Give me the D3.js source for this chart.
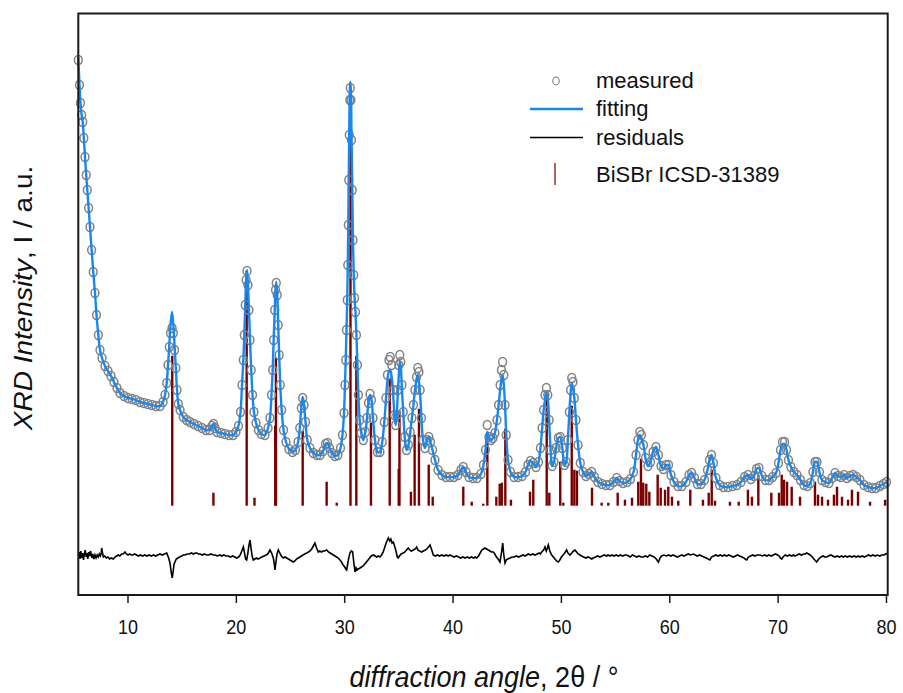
<!DOCTYPE html>
<html>
<head>
<meta charset="utf-8">
<script src="https://cdn.jsdelivr.net/npm/d3@7"></script>
<style>
  html, body { margin: 0; padding: 0; background: #fff; }
  #chart { width: 903px; height: 693px; }
  text { font-family: Arial, "Liberation Sans", sans-serif; fill: #111; }
</style>
</head>
<body>
<div id="chart"></div>
<script>
// 2-theta grid of the measured pattern (deg)
const angle = [
  5.46,5.57,5.66,5.77,5.87,5.97,6.08,6.19,6.29,6.41,
  6.54,6.69,6.84,7.0,7.14,7.31,7.46,7.65,7.92,8.2,
  8.48,8.75,9.03,9.31,9.68,10.05,10.42,10.78,11.15,11.52,
  11.89,12.26,12.63,13.0,13.28,13.46,13.62,13.74,13.86,13.97,
  14.11,14.23,14.34,14.46,14.57,14.69,14.85,15.15,15.46,15.77,
  16.14,16.51,16.88,17.24,17.57,17.8,17.94,18.08,18.26,18.63,
  19.0,19.37,19.74,20.01,20.24,20.43,20.57,20.69,20.78,20.87,
  20.95,21.03,21.12,21.21,21.31,21.42,21.54,21.67,21.86,22.09,
  22.37,22.69,22.97,23.15,23.29,23.4,23.49,23.59,23.66,23.73,
  23.82,23.91,24.0,24.1,24.23,24.4,24.63,24.9,25.23,25.5,
  25.74,25.9,26.04,26.17,26.29,26.43,26.59,26.84,27.15,27.49,
  27.77,28.05,28.28,28.46,28.64,28.87,29.15,29.42,29.66,29.84,
  29.98,30.07,30.14,30.21,30.28,30.33,30.38,30.42,30.47,30.52,
  30.56,30.62,30.67,30.74,30.81,30.88,30.96,31.04,31.13,31.22,
  31.31,31.43,31.57,31.76,31.96,32.1,32.24,32.38,32.52,32.66,
  32.84,33.07,33.3,33.51,33.7,33.85,33.99,34.13,34.25,34.38,
  34.52,34.64,34.75,34.85,34.94,35.04,35.13,35.22,35.33,35.45,
  35.59,35.76,35.93,36.1,36.25,36.39,36.53,36.67,36.79,36.9,
  37.01,37.13,37.27,37.45,37.64,37.81,37.96,38.15,38.38,38.66,
  39.02,39.39,39.76,40.13,40.5,40.78,40.99,41.24,41.52,41.89,
  42.26,42.62,42.85,43.04,43.2,43.36,43.55,43.73,43.91,44.1,
  44.25,44.39,44.51,44.62,44.73,44.84,44.96,45.12,45.35,45.67,
  46.04,46.41,46.73,46.96,47.19,47.42,47.7,47.93,48.11,48.27,
  48.41,48.53,48.66,48.79,48.91,49.05,49.19,49.36,49.56,49.76,
  49.94,50.13,50.33,50.49,50.64,50.78,50.9,51.0,51.11,51.24,
  51.39,51.58,51.79,52.04,52.31,52.59,52.84,53.1,53.42,53.79,
  54.16,54.53,54.85,55.15,55.41,55.73,56.1,56.42,56.7,56.93,
  57.11,57.28,57.43,57.62,57.8,58.04,58.27,58.5,58.77,59.0,
  59.24,59.47,59.7,59.93,60.16,60.44,60.8,61.17,61.54,61.82,
  62.07,62.33,62.6,62.93,63.25,63.53,63.71,63.9,64.08,64.31,
  64.64,65.0,65.42,65.84,66.25,66.62,66.94,67.27,67.54,67.82,
  68.05,68.28,68.56,68.88,69.2,69.53,69.85,70.08,70.27,70.45,
  70.64,70.82,71.0,71.23,71.51,71.79,72.11,72.43,72.76,73.03,
  73.26,73.45,73.63,73.86,74.09,74.42,74.74,75.02,75.3,75.57,
  75.85,76.13,76.4,76.68,76.98,77.28,77.6,77.97,78.34,78.71,
  79.08,79.44,79.77,80.05
];

// measured intensity (a.u.)
const measured = [
  535,510,492,480,473,457,438,420,405,387,
  368,345,323,302,280,260,245,237,229,224,
  219,213,207,202,199,197,196,195,193,192,
  191,190,189,189,193,200,212,230,248,262,
  267,262,245,227,205,191,185,178,175,173,
  171,169,167,165,165,169,171,167,163,162,
  161,160,160,163,169,183,210,235,260,290,
  315,324,310,285,255,225,200,183,172,165,
  161,160,167,177,200,225,255,285,305,312,
  300,270,240,210,185,165,153,146,143,145,
  153,167,187,197,190,173,155,147,142,140,
  140,144,151,152,147,142,139,140,147,160,
  182,210,235,265,295,330,370,415,460,495,
  507,495,455,405,355,320,297,283,260,230,
  200,175,162,155,163,177,192,201,195,177,
  155,143,143,153,173,197,220,235,238,230,
  205,180,170,180,205,230,240,233,210,183,
  158,145,150,163,177,190,205,218,227,223,
  205,177,155,147,155,158,153,145,135,125,
  120,118,118,118,120,125,128,123,118,117,
  117,121,130,145,170,158,155,157,162,175,
  190,210,225,233,220,190,160,135,123,118,
  118,119,123,130,134,132,128,133,147,167,
  185,200,207,200,175,145,129,133,147,157,
  158,147,130,133,155,183,205,217,213,197,
  175,150,132,123,119,121,123,118,113,111,
  110,110,113,117,114,112,113,116,123,140,
  155,163,160,150,137,129,133,143,148,140,
  129,126,130,130,120,113,109,109,113,120,
  122,117,111,111,115,125,135,140,132,117,
  110,108,108,109,110,113,118,120,116,119,
  126,127,119,115,115,118,122,132,145,153,
  153,145,135,128,123,120,115,110,109,112,
  123,133,133,123,115,113,112,117,122,119,
  118,120,117,119,120,118,115,110,108,107,
  107,109,111,113
];

// Rietveld fit (a.u.)
const fitted = [
  538,510,492,480,473,457,438,420,405,387,
  368,345,323,302,280,260,245,237,229,224,
  219,213,207,202,199,197,196,195,193,192,
  191,190,189,189,193,200,212,230,250,270,
  283,270,250,227,205,191,185,178,175,173,
  171,169,167,165,165,169,171,167,163,162,
  161,160,160,163,169,183,210,235,260,290,
  315,325,310,285,255,225,200,183,172,165,
  161,160,167,177,200,225,255,285,305,313,
  300,270,240,210,185,165,153,146,143,145,
  153,167,187,198,190,173,155,147,142,140,
  140,144,151,152,147,142,139,140,147,160,
  182,210,235,265,295,330,372,418,470,505,
  513,505,465,410,355,320,297,283,260,230,
  200,175,162,155,163,177,192,200,195,177,
  155,143,143,153,173,195,215,224,225,218,
  200,180,170,180,200,220,233,228,205,183,
  158,145,150,163,177,190,205,215,220,213,
  200,177,155,147,155,158,153,145,135,125,
  120,118,118,118,120,125,128,123,118,117,
  117,121,130,145,163,158,155,157,162,175,
  190,205,215,220,210,190,160,135,123,118,
  118,119,123,130,134,132,128,133,147,167,
  185,195,202,196,175,145,129,133,147,157,
  158,147,130,133,155,183,203,212,207,197,
  175,150,132,123,119,121,123,118,113,111,
  110,110,113,117,114,112,113,116,123,140,
  155,160,157,150,137,129,133,143,148,140,
  129,126,130,130,120,113,109,109,113,120,
  122,117,111,111,115,125,135,140,132,117,
  110,108,108,109,110,113,118,120,116,119,
  126,127,119,115,115,118,122,132,145,151,
  151,145,135,128,123,120,115,110,109,112,
  123,133,133,123,115,113,112,117,122,119,
  118,120,117,119,120,118,115,110,108,107,
  107,109,111,113
];

// difference curve, drawn around residualOffset
const residualOffset = 39;
const residAngle = [
  5.46,5.55,5.62,5.7,5.78,5.86,5.94,6.02,6.1,6.18,6.26,6.34,6.42,6.5,6.6,6.7,6.8,6.9,7.0,7.1,
  7.2,7.3,7.4,7.5,7.58,7.62,7.68,7.77,7.9,8.05,8.2,8.35,8.5,8.69,8.85,9.0,9.15,9.3,9.45,9.6,
  9.77,9.9,10.05,10.2,10.35,10.5,10.65,10.85,11.0,11.2,11.4,11.6,11.8,12.0,12.2,12.4,12.6,12.8,13.0,13.2,
  13.4,13.62,13.8,13.92,14.02,14.13,14.22,14.3,14.38,14.5,14.65,14.8,15.0,15.15,15.3,15.5,15.7,15.9,16.1,16.25,
  16.39,16.55,16.7,16.9,17.1,17.3,17.5,17.7,17.9,18.1,18.3,18.54,18.7,18.9,19.1,19.3,19.5,19.7,19.9,20.08,
  20.25,20.4,20.55,20.69,20.8,20.9,21.0,21.1,21.2,21.31,21.4,21.5,21.61,21.75,21.9,22.05,22.23,22.4,22.6,22.8,
  22.95,23.05,23.15,23.3,23.46,23.55,23.61,23.7,23.8,23.92,24.05,24.2,24.38,24.55,24.7,24.85,25.0,25.15,25.3,25.45,
  25.6,25.75,25.9,26.05,26.2,26.35,26.54,26.7,26.85,27.0,27.15,27.3,27.45,27.61,27.75,27.9,28.05,28.2,28.38,28.55,
  28.7,28.85,29.0,29.15,29.3,29.45,29.61,29.75,29.9,30.05,30.15,30.23,30.32,30.42,30.53,30.65,30.78,30.88,31.0,31.1,
  31.2,31.3,31.46,31.6,31.75,31.9,32.05,32.2,32.35,32.5,32.69,32.85,33.0,33.15,33.3,33.45,33.6,33.75,33.9,34.07,
  34.2,34.3,34.42,34.53,34.65,34.8,34.9,34.99,35.1,35.25,35.45,35.6,35.75,35.91,36.05,36.2,36.38,36.55,36.69,36.8,
  36.95,37.15,37.3,37.5,37.7,37.85,37.92,38.05,38.22,38.4,38.6,38.8,39.0,39.2,39.4,39.6,39.76,39.95,40.15,40.35,
  40.55,40.75,40.95,41.15,41.35,41.55,41.75,41.95,42.1,42.23,42.4,42.55,42.7,42.85,42.99,43.15,43.3,43.45,43.6,43.76,
  43.9,44.05,44.2,44.38,44.5,44.63,44.72,44.84,44.95,45.1,45.3,45.5,45.7,45.9,46.1,46.3,46.5,46.7,46.84,47.0,
  47.2,47.4,47.6,47.8,48.0,48.1,48.23,48.4,48.53,48.65,48.75,48.84,48.95,49.05,49.15,49.3,49.45,49.6,49.76,49.9,
  50.05,50.2,50.35,50.53,50.65,50.84,51.0,51.15,51.3,51.45,51.6,51.76,51.9,52.1,52.3,52.5,52.7,52.85,52.99,53.2,
  53.4,53.6,53.8,54.0,54.2,54.35,54.53,54.7,54.9,55.1,55.3,55.5,55.7,55.9,56.07,56.25,56.4,56.6,56.8,57.0,
  57.2,57.4,57.6,57.8,58.0,58.2,58.4,58.6,58.8,58.99,59.15,59.3,59.5,59.76,59.95,60.15,60.35,60.55,60.75,60.95,
  61.15,61.35,61.55,61.75,61.95,62.22,62.4,62.6,62.8,63.0,63.2,63.4,63.6,63.76,63.9,64.1,64.3,64.5,64.7,64.9,
  65.1,65.3,65.5,65.7,65.9,66.1,66.3,66.5,66.7,66.9,67.0,67.15,67.3,67.5,67.7,67.9,68.1,68.38,68.6,68.8,
  69.0,69.2,69.4,69.6,69.8,70.0,70.15,70.25,70.38,70.5,70.7,70.9,71.1,71.3,71.45,71.6,71.8,72.0,72.2,72.4,
  72.55,72.69,72.85,73.0,73.2,73.35,73.6,73.8,74.0,74.2,74.35,74.52,74.7,74.9,75.1,75.3,75.5,75.7,75.9,76.05,
  76.25,76.45,76.65,76.85,77.05,77.25,77.45,77.6,77.8,78.0,78.2,78.4,78.6,78.8,79.0,79.2,79.44,79.6,79.8,80.0,
  80.06
];
const residValue = [
  1,4,-3,5,-2,3,-4,2,6,-1,3,-3,4,0,5,-2,2,-3,1,-2,
  1,-1,2,0,3,8,4,-1,0,-2,-1,-3,-2,-3,-1,0,1,0,2,2,
  4,2,1,2,1,1,2,1,0,1,0,1,0,1,0,1,0,1,2,1,
  2,3,-2,-7,-15,-22,-15,-8,-6,-3,-2,-1,0,1,1,2,2,3,2,3,
  3,2,2,1,2,1,1,2,1,1,0,1,0,1,0,0,-1,0,-1,-2,
  -1,1,5,9,3,-3,-4,2,10,16,8,0,-4,-3,-2,-3,-2,-1,0,1,
  2,4,6,3,-2,-8,-14,-6,2,6,3,0,-2,-1,-2,-3,-4,-5,-6,-5,
  -3,-2,-1,0,1,2,3,4,5,7,10,13,8,4,5,4,5,5,6,4,
  3,2,1,0,-1,-2,-4,-6,-9,-11,-13,-14,-8,-2,3,5,4,-6,-16,-12,
  -14,-13,-12,-11,-10,-8,-6,-4,-2,0,1,0,-1,0,-1,1,4,9,14,18,
  15,17,13,14,10,4,-1,-2,0,2,3,4,6,8,6,5,6,7,9,6,
  5,4,5,6,8,10,11,7,1,0,1,0,1,0,1,0,1,0,-1,0,
  -1,-2,-1,-2,-1,-2,-1,-2,-1,-2,0,3,6,7,8,7,6,5,4,4,
  2,-1,-3,-6,2,13,2,-7,-4,-3,-2,-1,-1,0,-1,0,1,0,1,2,
  1,2,1,2,3,2,4,6,9,5,8,11,6,3,1,-1,-3,-5,-6,-4,
  -1,1,3,6,3,1,3,5,6,4,2,1,0,-1,-2,-1,-2,-3,-2,-1,
  0,-1,0,1,0,1,0,1,0,1,0,1,0,1,1,0,-1,1,0,-1,
  0,-1,-1,0,-1,1,0,-1,-3,-6,-2,0,1,0,1,0,1,0,-1,0,
  1,0,1,2,1,2,1,0,1,0,-1,-2,-3,-4,-1,0,1,0,1,0,
  1,0,1,0,-1,0,1,0,-1,-2,-3,-4,-1,0,1,0,1,1,0,1,
  0,1,0,1,2,1,0,-2,-3,-1,1,0,1,0,1,0,1,2,1,2,
  2,3,2,1,-1,-3,-6,-3,-1,0,-1,-1,0,1,0,-1,0,-1,0,-1,
  0,-1,0,-1,0,-1,0,-1,0,-1,0,1,0,1,0,1,0,1,1,2,
  3
];

// BiSBr ICSD-31389 reference reflections
const stickBase = 89.3;
const stickAngle = [
  14.13,17.93,21.0,21.72,23.63,23.7,26.17,28.38,29.31,30.58,
  31.12,32.47,34.2,35.03,35.1,36.16,36.5,36.9,37.8,38.17,
  40.99,41.77,42.84,43.21,44.04,44.35,44.54,44.87,45.39,47.15,
  47.45,48.69,48.93,49.94,50.22,51.0,51.24,51.48,52.87,53.76,
  54.37,55.24,55.91,56.56,57.14,57.39,57.6,57.88,58.16,58.93,
  59.21,59.61,59.91,60.25,60.83,61.94,63.11,63.64,63.92,64.22,
  65.6,66.41,67.26,67.63,68.22,69.42,70.13,70.38,70.59,70.87,
  71.3,72.07,73.45,73.73,74.1,74.65,75.2,75.48,75.94,76.5,
  76.86,77.42,78.53,79.92
];
const stickHeight = [
  150,13,235,8,80,148,75,24,3,411,
  150,83,127,37,95,14,71,97,41,9,
  19,4,2,69,9,22,23,77,6,14,
  26,109,13,44,3,100,36,35,18,3,
  3,13,6,8,24,47,23,22,14,31,
  18,16,19,9,5,16,6,13,36,5,
  4,4,16,9,31,13,13,31,26,24,
  19,9,24,11,9,6,11,19,9,6,
  16,14,4,6
];

const xTicks = [10, 20, 30, 40, 50, 60, 70, 80];
const legendItems = ["measured", "fitting", "residuals", "BiSBr ICSD-31389"];

const W = 903, H = 693;
const m = {t: 13.5, l: 78.3, r: 15.3, b: 98};
const w = W - m.l - m.r;
const h = H - m.t - m.b;

const scaleX = d3.scaleLinear().domain([5.46, 80.16]).range([0, w]);
const scaleY = d3.scaleLinear().domain([0, 581.5]).range([h, 0]);

const svg = d3.select("#chart").append("svg")
  .attr("width", W).attr("height", H);

const plot = svg.append("g").attr("transform", `translate(${m.l},${m.t})`);

// reference sticks
plot.append("g").attr("class", "sticks")
  .selectAll("line")
  .data(d3.zip(stickAngle, stickHeight))
  .join("line")
  .attr("x1", d => scaleX(d[0])).attr("x2", d => scaleX(d[0]))
  .attr("y1", scaleY(stickBase))
  .attr("y2", d => scaleY(stickBase + d[1]))
  .attr("stroke", "#7a0000")
  .attr("stroke-width", 2.4);

// measured points
const meas = d3.zip(angle, measured);
plot.append("g").attr("class", "measured")
  .selectAll("ellipse")
  .data(meas)
  .join("ellipse")
  .attr("cx", d => scaleX(d[0]))
  .attr("cy", d => scaleY(d[1]))
  .attr("rx", 3.9).attr("ry", 4.5)
  .attr("fill", "none")
  .attr("stroke", "#828282")
  .attr("stroke-width", 1.5);

// fit
const lineGen = d3.line()
  .x(d => scaleX(d[0]))
  .y(d => scaleY(d[1]))
  .curve(d3.curveCatmullRom.alpha(0.5));

plot.append("path")
  .datum(d3.zip(angle, fitted))
  .attr("d", lineGen)
  .attr("fill", "none")
  .attr("stroke", "#1888f0")
  .attr("stroke-width", 2.4);

// residuals
plot.append("path")
  .datum(d3.zip(residAngle, residValue).map(d => [d[0], residualOffset + d[1]]))
  .attr("d", d3.line().x(d => scaleX(d[0])).y(d => scaleY(d[1])))
  .attr("fill", "none")
  .attr("stroke", "#000")
  .attr("stroke-width", 1.6);

// box
plot.append("rect")
  .attr("width", w).attr("height", h)
  .attr("fill", "none")
  .attr("stroke", "#1a1a1a")
  .attr("stroke-width", 2);

// x axis
const axisX = d3.axisBottom(scaleX).tickValues(xTicks).tickSize(8).tickSizeOuter(0);
const gx = plot.append("g").attr("transform", `translate(0,${h})`).call(axisX);
gx.select(".domain").remove();
gx.selectAll(".tick line").attr("stroke", "#1a1a1a").attr("stroke-width", 1.5);
gx.selectAll(".tick text")
  .attr("font-size", 18)
  .attr("font-family", "Arial, 'Liberation Sans', sans-serif")
  .attr("fill", "#111")
  .attr("dy", 0)
  .attr("y", 39 / 1.14)
  .attr("transform", "scale(1,1.14)");

// axis titles
const xt = svg.append("text")
  .attr("transform", "translate(484,687) scale(1,1.08)")
  .attr("text-anchor", "middle")
  .attr("font-size", 27);
xt.append("tspan").attr("font-style", "italic").text("diffraction angle");
xt.append("tspan").text(", 2θ / °");

const yt = svg.append("text")
  .attr("transform", "translate(32,298) scale(1,1.12) rotate(-90)")
  .attr("text-anchor", "middle")
  .attr("font-size", 25);
yt.append("tspan").attr("font-style", "italic").text("XRD Intensity");
yt.append("tspan").text(", I / a.u.");

// legend
const lg = svg.append("g").attr("class", "legend");
lg.append("ellipse").attr("cx", 556).attr("cy", 81).attr("rx", 3.3).attr("ry", 3.8)
  .attr("fill", "none").attr("stroke", "#8a8a8a").attr("stroke-width", 1.2);
lg.append("line").attr("x1", 530).attr("x2", 583).attr("y1", 109).attr("y2", 109)
  .attr("stroke", "#1888f0").attr("stroke-width", 2.4);
lg.append("line").attr("x1", 530).attr("x2", 583).attr("y1", 137.5).attr("y2", 137.5)
  .attr("stroke", "#000").attr("stroke-width", 1.5);
lg.append("line").attr("x1", 555).attr("x2", 555).attr("y1", 163).attr("y2", 185)
  .attr("stroke", "#a03a3a").attr("stroke-width", 1.6);
const legendY = [87.5, 116, 144.5, 182];
lg.selectAll("text.lab")
  .data(legendItems)
  .join("text")
  .attr("class", "lab")
  .attr("x", 596)
  .attr("y", (d, i) => legendY[i])
  .attr("font-size", 22)
  .text(d => d);
</script>
</body>
</html>
